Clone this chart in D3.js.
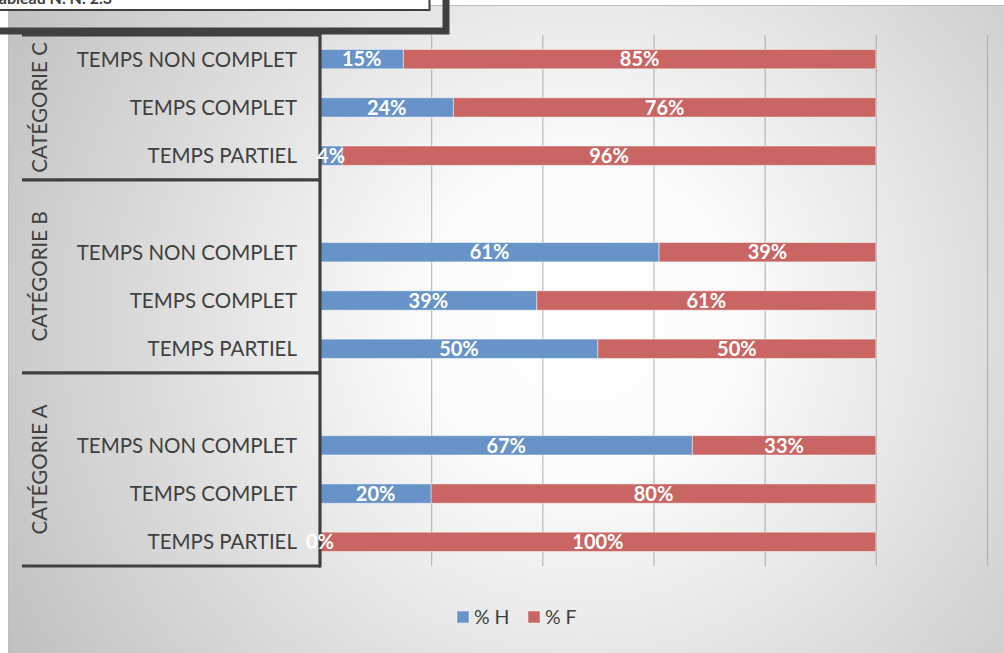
<!DOCTYPE html>
<html><head><meta charset="utf-8">
<script src="https://cdn.jsdelivr.net/npm/d3@7"></script>
<style>
html,body{margin:0;padding:0;background:#fff;}
svg{display:block;}
text{font-family:Lato,"Open Sans",sans-serif;}
</style></head>
<body>
<svg id="chart" width="1004" height="653"></svg>
<script>
// ---- data (top to bottom order inside each group: NON COMPLET, COMPLET, PARTIEL) ----
const groups = ["CATÉGORIE C", "CATÉGORIE B", "CATÉGORIE A"];
const subcats = ["TEMPS NON COMPLET", "TEMPS COMPLET", "TEMPS PARTIEL"];
const pctH = [[15, 24, 4], [61, 39, 50], [67, 20, 0]];
const pctF = [[85, 76, 96], [39, 61, 50], [33, 80, 100]];
const seriesNames = ["% H", "% F"];
const xTicks = [0, 20, 40, 60, 80, 100, 120];
const titleText = "Tableau N. N. 2.3";

const colH = "#6893c8", colF = "#c96664", dark = "#404040";
const svg = d3.select("#chart");

// background
const defs = svg.append("defs");
const rg = defs.append("radialGradient").attr("id", "bg").attr("gradientUnits", "userSpaceOnUse")
  .attr("cx", 580).attr("cy", 320).attr("r", 660);
rg.append("stop").attr("offset", 0).attr("stop-color", "#ffffff");
rg.append("stop").attr("offset", 0.25).attr("stop-color", "#fbfbfb");
rg.append("stop").attr("offset", 1).attr("stop-color", "#c0c0c0");
svg.append("rect").attr("x", 8.5).attr("y", 5.5).attr("width", 1000).attr("height", 650)
  .attr("fill", "url(#bg)").attr("stroke", "#bdbdbd");

// rows (blank rows between groups)
const rows = [];
groups.forEach((g, gi) => {
  if (gi > 0) rows.push({key: g + "|gap", g, gi, gap: true});
  subcats.forEach((s, si) => rows.push({key: g + "|" + s, g, gi, s, si,
    h: pctH[gi][si], f: pctF[gi][si]}));
});

const x0 = 320, x1 = 987, yTop = 35, yBot = 566;
const x = d3.scaleLinear().domain([0, 120]).range([x0, x1]);
const y = d3.scaleBand().domain(rows.map(r => r.key)).range([yTop, yBot])
  .paddingInner(0.6).paddingOuter(0.3);
const step = y.step(), bw = y.bandwidth(), half = (step - bw) / 2;

// gridlines
const grid = svg.append("g").call(d3.axisBottom(x).tickValues(xTicks).tickSize(-(yBot - yTop)).tickFormat(""))
  .attr("transform", `translate(0,${yBot})`);
grid.select(".domain").remove();
grid.selectAll(".tick line").attr("stroke", "#a8a8a8").attr("stroke-opacity", 0.8).attr("stroke-width", 1.2);
grid.selectAll(".tick").filter(d => d === 0).remove();

// bars
const data = rows.filter(r => !r.gap);
const bars = svg.append("g");
bars.selectAll("rect.h").data(data).join("rect").attr("class", "h")
  .attr("x", x(0)).attr("y", d => y(d.key)).attr("width", d => x(d.h) - x(0)).attr("height", bw)
  .attr("fill", colH).attr("stroke", "#ffffff").attr("stroke-opacity", 0.45).attr("stroke-width", 1);
bars.selectAll("rect.f").data(data).join("rect").attr("class", "f")
  .attr("x", d => x(d.h)).attr("y", d => y(d.key)).attr("width", d => x(d.h + d.f) - x(d.h)).attr("height", bw)
  .attr("fill", colF).attr("stroke", "#ffffff").attr("stroke-opacity", 0.45).attr("stroke-width", 1);

// category axis box
const axisG = svg.append("g");
const groupSpans = groups.map((g, gi) => {
  const keys = rows.filter(r => r.gi === gi).map(r => r.key);
  return {g, top: y(keys[0]) - half, bot: y(keys[keys.length - 1]) + bw + half};
});
const bounds = [yTop].concat(groupSpans.map(s => s.bot));
axisG.selectAll("line.hb").data(bounds).join("line")
  .attr("x1", 22).attr("x2", x0).attr("y1", d => d).attr("y2", d => d)
  .attr("stroke", dark).attr("stroke-width", 3.2);
axisG.append("line").attr("x1", x0).attr("x2", x0).attr("y1", yTop - 1.5).attr("y2", yBot + 1.5)
  .attr("stroke", dark).attr("stroke-width", 3.2);

axisG.selectAll("text.sub").data(data).join("text").attr("class", "sub")
  .attr("x", 297).attr("y", d => y(d.key) + bw / 2).attr("dy", "0.36em")
  .attr("text-anchor", "end").attr("font-size", 20.5).attr("fill", dark).text(d => d.s);
axisG.selectAll("text.grp").data(groupSpans).join("text").attr("class", "grp")
  .attr("transform", d => `translate(40,${(d.top + d.bot) / 2}) rotate(-90)`)
  .attr("dy", "0.36em").attr("text-anchor", "middle").attr("font-size", 20.5).attr("fill", dark).text(d => d.g);

// value labels
const lab = svg.append("g").attr("font-weight", "bold").attr("font-size", 20).attr("fill", "#fff").attr("text-anchor", "middle");
lab.selectAll("text.lh").data(data).join("text")
  .attr("x", d => x(d.h / 2)).attr("y", d => y(d.key) + bw / 2).attr("dy", "0.36em").text(d => d.h + "%");
lab.selectAll("text.lf").data(data).join("text")
  .attr("x", d => x(d.h + d.f / 2)).attr("y", d => y(d.key) + bw / 2).attr("dy", "0.36em").text(d => d.f + "%");

// legend
const leg = svg.append("g").attr("transform", "translate(457,611)");
const legItems = leg.selectAll("g").data(seriesNames).join("g")
  .attr("transform", (d, i) => `translate(${i * 71},0)`);
legItems.append("rect").attr("width", 12).attr("height", 12)
  .attr("fill", (d, i) => i ? colF : colH).attr("stroke", "#fff").attr("stroke-opacity", 0.45);
legItems.append("text").attr("x", 17).attr("y", 6).attr("dy", "0.36em")
  .attr("font-size", 19.5).attr("fill", dark).text(d => d);

// title box overlay (top-left, cut off at the top edge as in the reference)
const tb = svg.append("g");
tb.append("rect").attr("x", -5).attr("y", -10).attr("width", 434.5).attr("height", 20)
  .attr("fill", "#fff").attr("stroke", dark).attr("stroke-width", 2);
tb.append("text").attr("x", 112).attr("y", 4).attr("text-anchor", "end")
  .attr("font-size", 16).attr("font-weight", "bold").attr("fill", dark).text(titleText);
tb.append("path").attr("d", "M0,31 H446 V0").attr("fill", "none").attr("stroke", dark).attr("stroke-width", 7);
</script>
</body></html>
